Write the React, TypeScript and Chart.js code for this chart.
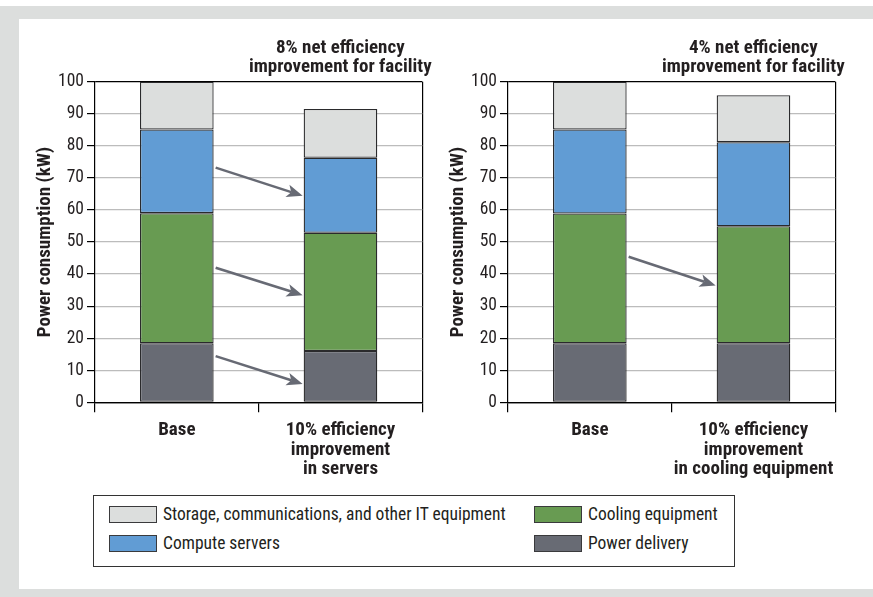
import React, { useEffect, useRef } from 'react';
import { Chart, registerables } from 'chart.js';

Chart.register(...registerables);

const FONT = '"Roboto Condensed", "Liberation Sans Narrow", "Liberation Sans", Arial, sans-serif';
const TEXT = '#231f20';
const ARROW = '#676a74';

// Series (bottom to top of the stack)
const seriesNames = ['Power delivery', 'Cooling equipment', 'Compute servers', 'Storage, communications, and other IT equipment'];
const seriesColors = ['#686b74', '#689b52', '#619cd4', '#dcdedd'];

// Left panel
const leftCategories = [['Base'], ['10% efficiency', 'improvement', 'in servers']];
const leftPower = [18.4, 16.0];
const leftCooling = [40.6, 36.9];
const leftCompute = [26.1, 23.4];
const leftStorage = [14.9, 15.2];
const leftTitle = ['8% net efficiency', 'improvement for facility'];
const leftArrowFrom = [73.2, 42.0, 14.4];
const leftArrowTo = [64.4, 33.4, 5.7];

// Right panel
const rightCategories = [['Base'], ['10% efficiency', 'improvement', 'in cooling equipment']];
const rightPower = [18.4, 18.4];
const rightCooling = [40.5, 36.5];
const rightCompute = [26.2, 26.2];
const rightStorage = [14.9, 14.7];
const rightTitle = ['4% net efficiency', 'improvement for facility'];
const rightArrowFrom = [45.4];
const rightArrowTo = [36.4];

const yAxisTitle = 'Power consumption (kW)';
const yMin = 0;
const yMax = 100;
const yStep = 10;

// Legend layout order (row-major, two columns)
const legendOrder = [3, 1, 2, 0];

const overlayPlugin = {
  id: 'overlay',
  afterDatasetsDraw(chart: any, _args: any, opts: any) {
    const { ctx, chartArea, scales } = chart;
    const meta = chart.getDatasetMeta(0);
    const b0 = meta.data[0];
    const b1 = meta.data[1];
    const xs = b0.x + b0.width / 2 + 2;
    const xe = b1.x - b1.width / 2 - 1;
    const from: number[] = opts.from || [];
    const to: number[] = opts.to || [];
    ctx.save();
    for (let i = 0; i < from.length; i++) {
      const ys = scales.y.getPixelForValue(from[i]);
      const ye = scales.y.getPixelForValue(to[i]);
      const ang = Math.atan2(ye - ys, xe - xs);
      const headLen = 16;
      const headHalf = 6.5;
      const bx = xe - Math.cos(ang) * headLen;
      const by = ye - Math.sin(ang) * headLen;
      ctx.strokeStyle = ARROW;
      ctx.fillStyle = ARROW;
      ctx.lineWidth = 2.6;
      ctx.lineCap = 'butt';
      ctx.beginPath();
      ctx.moveTo(xs, ys);
      ctx.lineTo(bx + Math.cos(ang) * 4, by + Math.sin(ang) * 4);
      ctx.stroke();
      const nx = -Math.sin(ang);
      const ny = Math.cos(ang);
      ctx.beginPath();
      ctx.moveTo(xe, ye);
      ctx.lineTo(bx + nx * headHalf, by + ny * headHalf);
      ctx.lineTo(bx + Math.cos(ang) * 4, by + Math.sin(ang) * 4);
      ctx.lineTo(bx - nx * headHalf, by - ny * headHalf);
      ctx.closePath();
      ctx.fill();
    }
    const title: string[] = opts.title || [];
    ctx.font = `bold 19px ${FONT}`;
    ctx.fillStyle = TEXT;
    ctx.textAlign = 'center';
    ctx.textBaseline = 'middle';
    const cx = chartArea.right - 82;
    title.forEach((line, i) => {
      ctx.fillText(line, cx, chartArea.top - 33 + i * 19);
    });
    ctx.restore();
  },
};

type PanelProps = {
  left: number;
  categories: string[][];
  series: number[][];
  title: string[];
  arrowFrom: number[];
  arrowTo: number[];
};

function Panel({ left, categories, series, title, arrowFrom, arrowTo }: PanelProps) {
  const ref = useRef<HTMLCanvasElement | null>(null);
  useEffect(() => {
    if (!ref.current) return;
    const chart = new Chart(ref.current, {
      type: 'bar',
      data: {
        labels: categories,
        datasets: series.map((vals, i) => ({
          label: seriesNames[i],
          data: vals,
          backgroundColor: seriesColors[i],
          borderColor: '#2a2a2c',
          borderWidth: 1.3,
          borderSkipped: false,
          barPercentage: 0.45,
          categoryPercentage: 1,
        })),
      },
      options: {
        responsive: false,
        animation: false,
        events: [],
        layout: { padding: { top: 61.7, right: 12.7, left: 0, bottom: 0 } },
        plugins: {
          legend: { display: false },
          tooltip: { enabled: false },
          title: { display: false },
          overlay: { title, from: arrowFrom, to: arrowTo },
        } as any,
        scales: {
          x: {
            stacked: true,
            offset: true,
            grid: {
              offset: true,
              drawOnChartArea: true,
              color: (c: any) => (c.type === 'scale' ? '#000' : 'rgba(0,0,0,0)'),
              tickColor: '#000',
              tickLength: 10,
              lineWidth: 1.2,
            },
            border: { color: '#000', width: 1.2 },
            ticks: {
              font: { family: FONT, size: 19, weight: 'bold', lineHeight: 1.04 },
              color: TEXT,
              padding: 8,
              maxRotation: 0,
              autoSkip: false,
            },
            afterFit: (s: any) => {
              s.height = 87.7;
            },
          },
          y: {
            stacked: true,
            min: yMin,
            max: yMax,
            ticks: {
              stepSize: yStep,
              font: { family: FONT, size: 17.5 },
              color: TEXT,
              padding: 3,
            },
            grid: {
              color: (c: any) =>
                c.tick && (c.tick.value === yMax || c.tick.value === yMin) ? '#000' : '#bcbcbc',
              tickColor: '#000',
              tickLength: 8,
              lineWidth: 1.2,
            },
            border: { color: '#000', width: 1.2 },
            title: {
              display: true,
              text: yAxisTitle,
              font: { family: FONT, size: 19, weight: 'bold', lineHeight: 1.2 },
              color: TEXT,
              padding: { top: 13.6, bottom: 0 },
            },
            afterFit: (s: any) => {
              s.width = 75;
            },
          },
        },
      } as any,
      plugins: [overlayPlugin as any],
    });
    return () => chart.destroy();
  }, []);
  return (
    <canvas
      ref={ref}
      width={415}
      height={470}
      style={{ position: 'absolute', left, top: 20, width: 415, height: 470 }}
    />
  );
}

export default function App() {
  return (
    <div
      style={{
        position: 'absolute',
        left: 0,
        top: 0,
        width: 873,
        height: 597,
        background: '#ffffff',
        overflow: 'hidden',
        fontFamily: FONT,
      }}
    >
      <div style={{ position: 'absolute', left: 0, top: 6, width: 873, height: 591, background: '#dcdedd' }} />
      <div style={{ position: 'absolute', left: 19, top: 19, width: 854, height: 570, background: '#ffffff' }} />
      <Panel
        left={20}
        categories={leftCategories}
        series={[leftPower, leftCooling, leftCompute, leftStorage]}
        title={leftTitle}
        arrowFrom={leftArrowFrom}
        arrowTo={leftArrowTo}
      />
      <Panel
        left={433.3}
        categories={rightCategories}
        series={[rightPower, rightCooling, rightCompute, rightStorage]}
        title={rightTitle}
        arrowFrom={rightArrowFrom}
        arrowTo={rightArrowTo}
      />
      <div
        style={{
          position: 'absolute',
          left: 93,
          top: 495,
          width: 642,
          height: 72,
          border: '1px solid #333',
          boxSizing: 'border-box',
        }}
      >
        {legendOrder.map((si, k) => {
          const col = k % 2;
          const row = Math.floor(k / 2);
          return (
            <div
              key={si}
              style={{
                position: 'absolute',
                left: col === 0 ? 15 : 440,
                top: 9 + row * 29,
                height: 18,
                display: 'flex',
                alignItems: 'center',
                whiteSpace: 'nowrap',
              }}
            >
              <div
                style={{
                  width: 48,
                  height: 17,
                  boxSizing: 'border-box',
                  background: seriesColors[si],
                  border: '1.5px solid #3a3a3c',
                  marginRight: 6,
                  flexShrink: 0,
                }}
              />
              <span style={{ fontSize: 17.5, color: TEXT, lineHeight: '18px' }}>{seriesNames[si]}</span>
            </div>
          );
        })}
      </div>
    </div>
  );
}
